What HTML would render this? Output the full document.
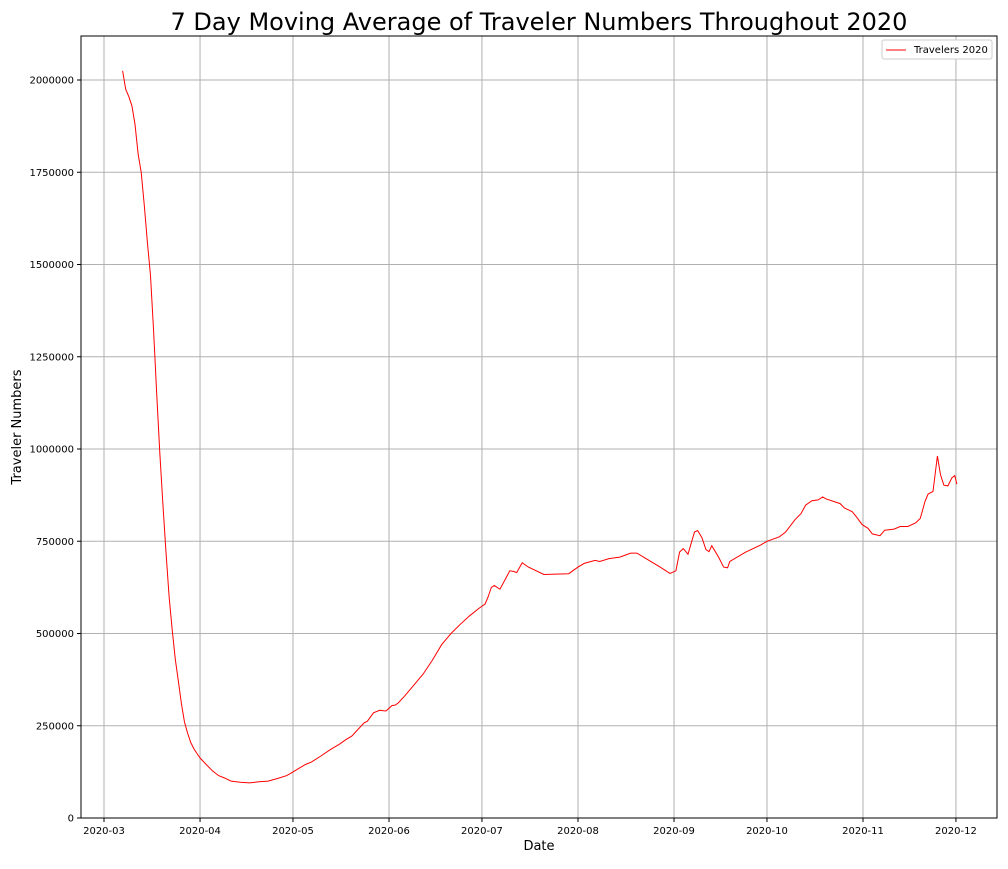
<!DOCTYPE html>
<html><head><meta charset="utf-8"><style>
body{margin:0;background:#fff;font-family:"Liberation Sans","DejaVu Sans",sans-serif;}
svg text{font-family:"DejaVu Sans","Liberation Sans",sans-serif;}
</style></head><body>
<svg id="chart" width="1008" height="864" xmlns="http://www.w3.org/2000/svg">
<rect width="1008" height="864" fill="#fff"/>
<text x="539" y="30" font-size="24" text-anchor="middle" fill="#000">7 Day Moving Average of Traveler Numbers Throughout 2020</text>
<g id="grid"></g>
<g id="ticks"></g>
<path id="line" fill="none" stroke="#ff0000" stroke-width="1"/>
<rect x="81" y="36" width="916" height="782" fill="none" stroke="#000" stroke-width="1"/>
<text x="539" y="850" font-size="13" text-anchor="middle">Date</text>
<text x="21" y="427" font-size="13" text-anchor="middle" transform="rotate(-90 21 427)">Traveler Numbers</text>
<g>
<rect x="882" y="40" width="110" height="19" fill="#fff" stroke="#ccc" rx="2"/>
<line x1="886" y1="50" x2="906" y2="50" stroke="#ff0000" stroke-width="1"/>
<text x="914" y="53" font-size="10">Travelers 2020</text>
</g>
</svg>
<script>
const days=[6,7,8,9,10,11,12,13,14,15,16,17,18,19,20,21,22,23,24,25,26,27,28,29,30,31,33,35,37,39,41,44,47,50,53,56,59,61,63,65,67,70,73,76,78,80,82,84,85,87,89,91,93,94,95,97,100,103,106,109,112,115,118,121,123,124,125,126,127.8,129.4,131,132.3,133.2,135,137,142,150,153,155,158.5,160,163,166.5,170,172,174.6,179.5,182.7,184.6,185.8,187,188.5,190.6,191.6,193,194.3,195.3,196.2,198.5,200,201.3,202,207,212,214,218,220,223,225,226.5,228.5,230.5,232,233,237.6,239,241.5,243,244.7,246.6,248,250.5,252,255,257,259.5,262,263.5,265,266,267.6,269,270,271.1,272.4,273.7,274.6,275.3];
const values=[2025000,1975000,1955000,1930000,1880000,1800000,1750000,1660000,1560000,1470000,1320000,1150000,990000,850000,720000,600000,510000,430000,370000,310000,260000,230000,205000,188000,175000,163000,145000,128000,115000,108000,100000,97000,95000,98000,100000,107000,115000,125000,135000,145000,152000,168000,185000,200000,212000,222000,240000,258000,262000,285000,292000,290000,305000,306000,312000,330000,360000,390000,428000,470000,500000,525000,548000,568000,580000,600000,625000,630000,620000,645000,670000,668000,665000,692000,680000,660000,662000,680000,690000,698000,695000,703000,707000,718000,718000,705000,680000,663000,670000,721000,730000,715000,775000,779000,760000,728000,722000,738000,705000,680000,678000,695000,720000,740000,750000,762000,775000,808000,825000,848000,860000,862000,870000,865000,852000,840000,830000,815000,795000,785000,770000,765000,780000,783000,790000,790000,800000,812000,858000,878000,885000,981000,930000,902000,900000,922000,928000,905000];
const xTickDays=[0,31,61,92,122,153,184,214,245,275];
const xTickLabels=["2020-03","2020-04","2020-05","2020-06","2020-07","2020-08","2020-09","2020-10","2020-11","2020-12"];
const yTicks=[0,250000,500000,750000,1000000,1250000,1500000,1750000,2000000];
const NS="http://www.w3.org/2000/svg";
const X=d=>104+d*3.098;
const Y=v=>818-v/2000000*738;
const grid=document.getElementById('grid'),ticks=document.getElementById('ticks');
function mk(tag,attrs,parent){const e=document.createElementNS(NS,tag);for(const k in attrs)e.setAttribute(k,attrs[k]);parent.appendChild(e);return e;}
xTickDays.forEach((d,i)=>{
 const g=mk('line',{x1:X(d),x2:X(d),y1:36,y2:818,stroke:'#b0b0b0','stroke-width':1},grid);
 
 
 mk('line',{x1:X(d),x2:X(d),y1:818,y2:822,stroke:'#000'},ticks);
 const t=mk('text',{x:X(d),y:834,'font-size':10,'text-anchor':'middle'},ticks);
 
 
 t.textContent=xTickLabels[i];
});
yTicks.forEach(v=>{
 const g=mk('line',{x1:81,x2:997,y1:Y(v),y2:Y(v),stroke:'#b0b0b0','stroke-width':1},grid);
 
 
 mk('line',{x1:77,x2:81,y1:Y(v),y2:Y(v),stroke:'#000'},ticks);
 const t=mk('text',{x:74,y:Y(v)+3.5,'font-size':10,'text-anchor':'end'},ticks);
 
 
 t.textContent=String(v);
});
document.getElementById('line').setAttribute('d',days.map((d,i)=>(i?'L':'M')+X(d).toFixed(1)+' '+Y(values[i]).toFixed(1)).join(' '));
</script>
</body></html>
